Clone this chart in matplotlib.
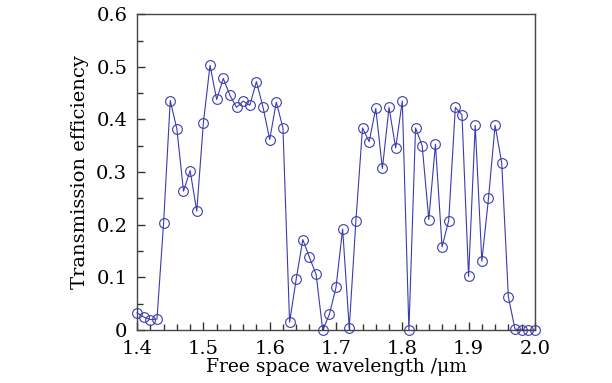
import matplotlib.pyplot as plt
import numpy as np
from matplotlib.ticker import MultipleLocator

# wavelength in um, 0.01 step from 1.40 to 2.00
wavelength = np.round(np.arange(1.40, 2.001, 0.01), 2)
transmission = [
    0.033, 0.025, 0.020, 0.021, 0.204, 0.436, 0.382, 0.264, 0.303, 0.226,
    0.394, 0.503, 0.438, 0.478, 0.446, 0.423, 0.435, 0.427, 0.472, 0.423,
    0.362, 0.433, 0.384, 0.015, 0.097, 0.172, 0.138, 0.106, 0.000, 0.030,
    0.081, 0.192, 0.004, 0.207, 0.384, 0.358, 0.421, 0.307, 0.423, 0.346,
    0.435, 0.000, 0.384, 0.350, 0.210, 0.353, 0.158, 0.208, 0.423, 0.409,
    0.102, 0.389, 0.131, 0.250, 0.389, 0.317, 0.063, 0.002, 0.000, 0.000,
    0.000,
]
x_ticks = [1.4, 1.5, 1.6, 1.7, 1.8, 1.9, 2.0]
x_ticklabels = ['1.4', '1.5', '1.6', '1.7', '1.8', '1.9', '2.0']
y_ticks = [0, 0.1, 0.2, 0.3, 0.4, 0.5, 0.6]
y_ticklabels = ['0', '0.1', '0.2', '0.3', '0.4', '0.5', '0.6']

plt.rcParams['font.family'] = ['DejaVu Serif']

fig = plt.figure(figsize=(6.12, 3.83), dpi=100)
ax = fig.add_axes([0.224, 0.138, 0.650, 0.825])

ax.plot(wavelength, transmission, color='#3b3bb0', lw=0.8,
        marker='o', markersize=7, markerfacecolor='none',
        markeredgecolor='#3b3bb0', markeredgewidth=0.8, clip_on=False)

ax.set_xlim(1.4, 2.0)
ax.set_ylim(0, 0.6)
ax.set_xticks(x_ticks)
ax.set_xticklabels(x_ticklabels)
ax.set_yticks(y_ticks)
ax.set_yticklabels(y_ticklabels)
ax.xaxis.set_minor_locator(MultipleLocator(0.02))
ax.yaxis.set_minor_locator(MultipleLocator(0.05))
ax.tick_params(which='both', direction='in', top=False, right=False,
               labelsize=14, color='#333333')
ax.tick_params(which='major', length=6, width=1)
ax.tick_params(axis='y', which='major', pad=7)
ax.tick_params(axis='x', which='major', pad=7)
ax.tick_params(which='minor', length=4, width=1)
for s in ax.spines.values():
    s.set_color('#444444')
    s.set_linewidth(1)

ax.set_xlabel('Free space wavelength /\u03bcm', fontsize=13.5, labelpad=0)
ax.set_ylabel('Transmission efficiency', fontsize=14, labelpad=5)

fig.savefig('out.png', dpi=100)
